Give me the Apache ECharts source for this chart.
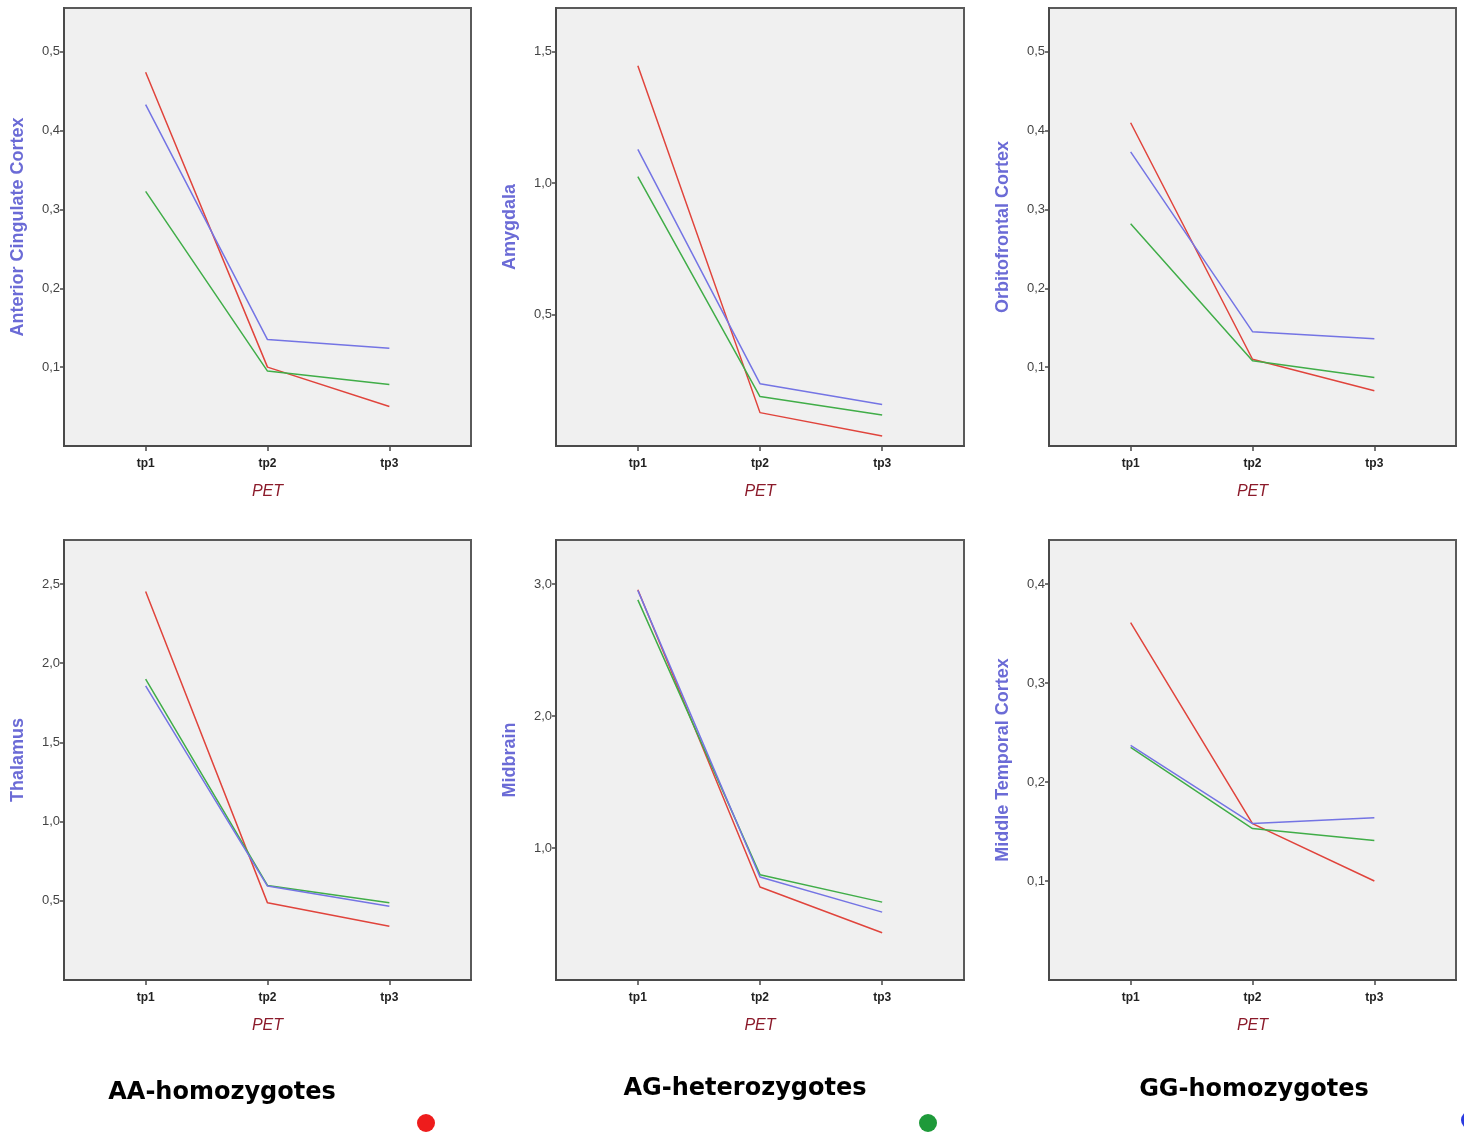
<!DOCTYPE html>
<html>
<head>
<meta charset="utf-8">
<script src="https://cdn.jsdelivr.net/npm/echarts@6/dist/echarts.min.js"></script>
<style>
  html, body { margin: 0; padding: 0; background: #ffffff; }
  #chart { width: 1464px; height: 1135px; }
</style>
</head>
<body>
<div id="chart"></div>
<script>
// PET timepoints on the x axis
const timepoints = ['tp1', 'tp2', 'tp3']

// brain regions, one panel each (row by row)
const regions = [
  'Anterior Cingulate Cortex',
  'Amygdala',
  'Orbitofrontal Cortex',
  'Thalamus',
  'Midbrain',
  'Middle Temporal Cortex',
]

const groups = ['AA-homozygotes', 'AG-heterozygotes', 'GG-homozygotes']

// values per region (tp1, tp2, tp3)
const aaValues = [
  [0.474, 0.100, 0.050],
  [1.447, 0.127, 0.038],
  [0.410, 0.110, 0.070],
  [2.453, 0.487, 0.340],
  [2.957, 0.704, 0.358],
  [0.361, 0.158, 0.100],
]
const agValues = [
  [0.323, 0.095, 0.078],
  [1.025, 0.188, 0.118],
  [0.282, 0.108, 0.087],
  [1.899, 0.597, 0.487],
  [2.880, 0.798, 0.590],
  [0.235, 0.153, 0.141],
]
const ggValues = [
  [0.433, 0.135, 0.124],
  [1.129, 0.237, 0.158],
  [0.373, 0.145, 0.136],
  [1.857, 0.593, 0.466],
  [2.952, 0.780, 0.514],
  [0.237, 0.158, 0.164],
]

// labelled y ticks per panel
const yTicks = [
  [0.1, 0.2, 0.3, 0.4, 0.5],
  [0.5, 1.0, 1.5],
  [0.1, 0.2, 0.3, 0.4, 0.5],
  [0.5, 1.0, 1.5, 2.0, 2.5],
  [1.0, 2.0, 3.0],
  [0.1, 0.2, 0.3, 0.4],
]

const GROUP_COLORS = ['#e0443c', '#40ad48', '#7474e4']
const groupValues = [aaValues, agValues, ggValues]

// panel frames (px)
const colLeft = [64, 556, 1049]
const colWidth = [407, 408, 407]
const rowTop = [8, 540]
const rowHeight = [438, 440]

const FONT = 'Arial, "Liberation Sans", sans-serif'

const grids = []
const xAxes = []
const yAxes = []
const series = []

regions.forEach((region, i) => {
  const col = i % 3
  const row = Math.floor(i / 3)
  const ticks = yTicks[i]
  const topTick = ticks[ticks.length - 1]

  grids.push({
    left: colLeft[col],
    top: rowTop[row],
    width: colWidth[col],
    height: rowHeight[row],
    show: true,
    backgroundColor: '#f0f0f0',
    borderColor: '#5a5a5a',
    borderWidth: 2,
  })

  xAxes.push({
    type: 'value',
    gridIndex: i,
    min: 0.33,
    max: 3.67,
    name: 'PET',
    nameLocation: 'middle',
    nameGap: 38,
    nameTextStyle: {
      color: '#8b1a2a',
      fontStyle: 'italic',
      fontSize: 16,
      fontFamily: FONT,
    },
    splitLine: { show: false },
    axisLine: { show: true, lineStyle: { color: '#4a4a4a', width: 2 } },
    axisTick: {
      show: true,
      length: 5,
      customValues: timepoints.map((_, k) => k + 1),
      lineStyle: { color: '#4a4a4a', width: 1.5 },
    },
    axisLabel: {
      customValues: timepoints.map((_, k) => k + 1),
      formatter: (v) => timepoints[Math.round(v) - 1] || '',
      color: '#222',
      fontWeight: 'bold',
      fontSize: 12,
      margin: 12,
      fontFamily: FONT,
    },
  })

  yAxes.push({
    type: 'value',
    gridIndex: i,
    min: 0,
    max: topTick / 0.9,
    name: region,
    nameLocation: 'middle',
    nameGap: 37,
    nameRotate: 90,
    nameTextStyle: {
      color: '#6b6bd6',
      fontWeight: 'bold',
      fontSize: 18,
      fontFamily: FONT,
    },
    splitLine: { show: false },
    axisLine: { show: true, lineStyle: { color: '#4a4a4a', width: 2 } },
    axisTick: {
      show: true,
      length: 4,
      customValues: ticks,
      lineStyle: { color: '#4a4a4a', width: 1.5 },
    },
    axisLabel: {
      customValues: ticks,
      formatter: (v) => v.toFixed(1).replace('.', ','),
      color: '#444',
      fontSize: 13,
      margin: 4,
      fontFamily: FONT,
    },
  })

  groups.forEach((g, gi) => {
    series.push({
      name: g,
      type: 'line',
      xAxisIndex: i,
      yAxisIndex: i,
      symbol: 'none',
      silent: true,
      lineStyle: { color: GROUP_COLORS[gi], width: 1.5 },
      data: groupValues[gi][i].map((v, k) => [k + 1, v]),
    })
  })
})

// group captions with their coloured dots under the panels
const captionX = [222, 745, 1254]
const captionY = [1093, 1089, 1090]
const dotX = [426, 928, 1470]
const dotY = [1123, 1123, 1120]
const DOT_COLORS = ['#ee1c1c', '#1e9a3a', '#2a3ae0']
const graphics = []
groups.forEach((g, gi) => {
  graphics.push({
    type: 'text',
    x: captionX[gi],
    y: captionY[gi],
    style: {
      text: g,
      align: 'center',
      verticalAlign: 'middle',
      fill: '#000',
      font: 'bold 24px "DejaVu Sans", Verdana, sans-serif',
    },
  })
  graphics.push({
    type: 'circle',
    shape: { cx: dotX[gi], cy: dotY[gi], r: 9 },
    style: { fill: DOT_COLORS[gi] },
  })
})

const chart = echarts.init(document.getElementById('chart'))
chart.setOption({
  backgroundColor: '#ffffff',
  animation: false,
  grid: grids,
  xAxis: xAxes,
  yAxis: yAxes,
  series: series,
  graphic: graphics,
})
</script>
</body>
</html>
